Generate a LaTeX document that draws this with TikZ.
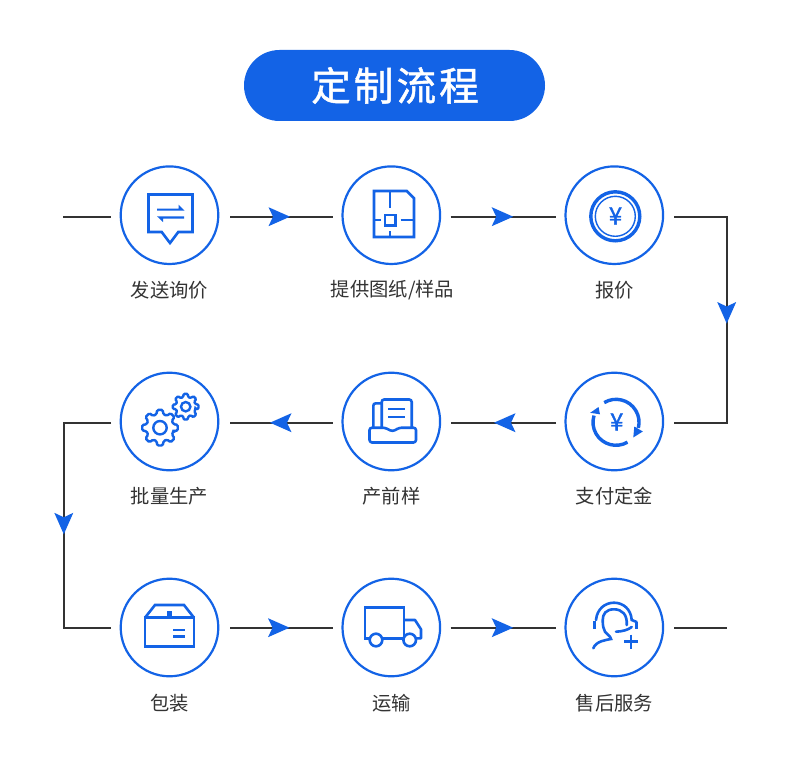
\documentclass[tikz,border=0pt]{standalone}
\usepackage{fontspec}
\setmainfont{Noto Sans CJK SC}
\newfontfamily\titlefont[LetterSpace=8,FakeBold=1.2]{Noto Sans CJK SC}
\newfontfamily\yenfont[FakeBold=1.5]{Noto Sans CJK SC}
\usetikzlibrary{decorations.markings,calc}
\definecolor{brand}{HTML}{1363E6}
\definecolor{ink}{HTML}{333333}
\tikzset{
  x=1pt,y=-1pt,
  stepcircle/.style={circle,draw=brand,line width=2.2pt,fill=white,minimum size=97.6pt,inner sep=0pt,outer sep=0pt},
  lab/.style={text=ink,font=\fontsize{19.3}{22}\selectfont,inner sep=0pt},
  conn/.style={draw=ink,line width=2.2pt,postaction={decorate},decoration={markings,mark=at position #1 with {\fill[brand] (0,0) -- (-21.5,9.5) -- (-17,0) -- (-21.5,-9.5) -- cycle;}}},
  plainconn/.style={draw=ink,line width=2.2pt},
  ico/.style={draw=brand,line width=2.6pt},
  icot/.style={draw=brand,line width=2.2pt},
  yen/.style={text=brand,font=\yenfont\fontsize{24}{26}\selectfont,inner sep=0pt},
}
\begin{document}
\begin{tikzpicture}
\useasboundingbox (0,0) rectangle (790,765);
\fill[white] (0,0) rectangle (790,765);

% title
\node[fill=brand,rounded corners=35.5pt,minimum width=301pt,minimum height=71pt,inner sep=0pt,text=white,font=\titlefont\fontsize{39.5}{42}\selectfont] (title) at (394.5,85.5) {\hspace{1pt}定制流程};

% step circles
\node[stepcircle] (c1) at (169.5,215.2) {};
\node[stepcircle] (c2) at (391.3,215.2) {};
\node[stepcircle] (c3) at (614.3,215.2) {};
\node[stepcircle] (c4) at (614.3,421.5) {};
\node[stepcircle] (c5) at (391.3,421.5) {};
\node[stepcircle] (c6) at (169.5,421.5) {};
\node[stepcircle] (c7) at (169.5,627.5) {};
\node[stepcircle] (c8) at (391.3,627.5) {};
\node[stepcircle] (c9) at (614.3,627.5) {};

% labels
\node[lab] (l1) at (169.5,290) {发送询价};
\node[lab] (l2) at (392.5,290) {提供图纸/样品};
\node[lab] (l3) at (614.3,290) {报价};
\node[lab] (l4) at (614.3,496.5) {支付定金};
\node[lab] (l5) at (391.5,496.5) {产前样};
\node[lab] (l6) at (169.5,496.5) {批量生产};
\node[lab] (l7) at (169.5,703) {包装};
\node[lab] (l8) at (391.5,703) {运输};
\node[lab] (l9) at (614.3,703) {售后服务};

% free ends and corners
\coordinate (s1) at (63,216.7);
\coordinate (cr1) at (726.7,216.7);
\coordinate (cr2) at (726.7,422.7);
\coordinate (cl1) at (63.8,422.7);
\coordinate (cl2) at (63.8,627.7);
\coordinate (e9) at (727,627.7);

% connectors
\draw[plainconn] (s1) -- ([shift={(-9.7,1.5)}]c1.west);
\draw[conn=60pt] ([shift={(11.7,1.5)}]c1.east) -- ([shift={(-9.8,1.5)}]c2.west);
\draw[conn=62.5pt] ([shift={(10.6,1.5)}]c2.east) -- ([shift={(-9.5,1.5)}]c3.west);
\draw[conn=159.5pt] ([shift={(10.9,1.5)}]c3.east) -- (cr1) -- (cr2) -- ([shift={(10.9,1.2)}]c4.east);
\draw[conn=62pt] ([shift={(-9.5,1.2)}]c4.west) -- ([shift={(10.6,1.2)}]c5.east);
\draw[conn=62.7pt] ([shift={(-9.8,1.2)}]c5.west) -- ([shift={(11.7,1.2)}]c6.east);
\draw[conn=158.8pt] ([shift={(-9.7,1.2)}]c6.west) -- (cl1) -- (cl2) -- ([shift={(-9.7,0.2)}]c7.west);
\draw[conn=59.5pt] ([shift={(11.7,0.2)}]c7.east) -- ([shift={(-9.8,0.2)}]c8.west);
\draw[conn=62.5pt] ([shift={(10.6,0.2)}]c8.east) -- ([shift={(-9.5,0.2)}]c9.west);
\draw[plainconn] ([shift={(10.9,0.2)}]c9.east) -- (e9);

% icon 1: chat bubble
\draw[ico,line join=miter] (148.5,194.5) -- (192.5,194.5) -- (192.5,232) -- (178.3,232) -- (170,243) -- (161.7,232) -- (148.5,232) -- cycle;
\fill[brand] (157,208.5) -- (178.5,208.5) -- (178.5,204.5) -- (184.5,210.7) -- (157,210.7) -- cycle;
\fill[brand] (184,216.3) -- (157,216.3) -- (163,222) -- (163,218.5) -- (184,218.5) -- cycle;

% icon 2: drawing
\draw[ico,line join=miter] (374,191) -- (406.7,191) -- (414,198.3) -- (414,237) -- (374,237) -- cycle;
\draw[ico] (390,191) -- (390,207.7);
\draw[ico] (390,231) -- (390,237);
\draw[ico] (385,215) rectangle (395.3,225.3);
\draw[ico] (374,220) -- (380.7,220);
\draw[ico] (400.7,220) -- (414,220);

% icon 3: coin
\draw[brand,line width=3.4pt] (615.3,216.3) circle[radius=24.5pt];
\draw[brand,line width=1.4pt] (615.3,216.3) circle[radius=20pt];
\node[yen] (y3) at (615.5,216) {¥};

% icon 4: payment cycle
\draw[brand,line width=3.4pt] (604.2,402.6) arc[start angle=121,end angle=-14,radius=23pt];
\fill[brand] (633.3,437.5) -- (642.8,431.5) -- (634.3,426.5) -- cycle;
\draw[brand,line width=3.4pt] (627.5,442.2) arc[start angle=-60,end angle=-197,radius=23pt];
\fill[brand] (590.2,412.8) -- (600,414.3) -- (598.5,407) -- cycle;
\node[yen] (y4) at (616.7,422) {¥};

% icon 5: sample tray
\draw[ico,rounded corners=2.5pt] (373.3,427.7) -- (373.3,403.3) -- (381.7,403.3);
\draw[ico,rounded corners=2.5pt] (381.7,427.7) -- (381.7,399.5) -- (411.7,399.5) -- (411.7,427.7);
\draw[ico,rounded corners=2.5pt,line join=round] (369.5,427.7) -- (385,427.7) -- (392.5,431.5) -- (399.5,427.7) -- (416,427.7) -- (416,442.5) -- (369.5,442.5) -- cycle;
\draw[ico] (388.3,409) -- (405,409);
\draw[ico] (388.3,417) -- (405,417);

% icon 6: gears
\draw[brand,line width=2.4pt,rounded corners=1.3pt] (160,427.7) ++(-14:14pt)
  foreach \a in {0,45,...,315} { -- ($(160,427.7)+(\a-9:18pt)$) -- ($(160,427.7)+(\a+9:18pt)$) -- ($(160,427.7)+(\a+15:13.8pt)$) -- ($(160,427.7)+(\a+31:13.8pt)$)} -- cycle;
\draw[brand,line width=2.4pt] (160,427.7) circle[radius=6.7pt];
\draw[brand,line width=2.4pt,rounded corners=1pt] (185.7,406.7) ++(-14:10pt)
  foreach \a in {0,45,...,315} { -- ($(185.7,406.7)+(\a-9:13pt)$) -- ($(185.7,406.7)+(\a+9:13pt)$) -- ($(185.7,406.7)+(\a+15:10pt)$) -- ($(185.7,406.7)+(\a+31:10pt)$)} -- cycle;
\draw[brand,line width=2.4pt] (185.7,406.7) circle[radius=4.7pt];

% icon 7: box
\draw[ico,line join=miter] (145,617.7) rectangle (194,646.7);
\draw[ico,line join=miter] (145,617.7) -- (155,605) -- (184,605) -- (194,617.7);
\fill[brand] (167.3,610.7) rectangle (172,617.7);
\draw[ico] (173.3,630) -- (185,630);
\draw[ico] (173.3,636.7) -- (185,636.7);

% icon 8: truck
\draw[ico,line join=miter] (369.8,638.3) -- (365,638.3) -- (365,607.7) -- (404,607.7) -- (404,638.3);
\draw[ico] (382.3,638.3) -- (403.4,638.3);
\draw[ico,line join=round] (404,620) -- (415,620) -- (421,629.3) -- (421,638.3) -- (416,638.3);
\draw[ico] (376,640) circle[radius=6.3pt];
\draw[ico] (409.7,640) circle[radius=6.3pt];

% icon 9: after-sales agent
\draw[ico,line cap=round] (626.7,625) .. controls (627.5,614.5) and (622,609.3) .. (614,609.3) .. controls (606,609.3) and (602.7,614) .. (602.7,620) .. controls (602.7,626) and (603.5,629) .. (605,631.7) .. controls (607,634.5) and (610.5,636) .. (611,639) .. controls (606,640) and (596,641) .. (593.3,648.3);
\draw[ico,line cap=round] (596,620) .. controls (597,609) and (605,602.7) .. (614,602.7) .. controls (623,602.7) and (631,609) .. (631.7,620) -- (636.7,622);
\draw[ico] (594.3,621) -- (594.3,629.3);
\draw[ico] (636.7,622) -- (636.7,629.3);
\draw[ico,line cap=round] (616,631.7) .. controls (622,631.5) and (628,630) .. (631.7,627);
\draw[ico] (624,641.7) -- (638,641.7);
\draw[ico] (631,634.7) -- (631,648.7);
\end{tikzpicture}
\end{document}
